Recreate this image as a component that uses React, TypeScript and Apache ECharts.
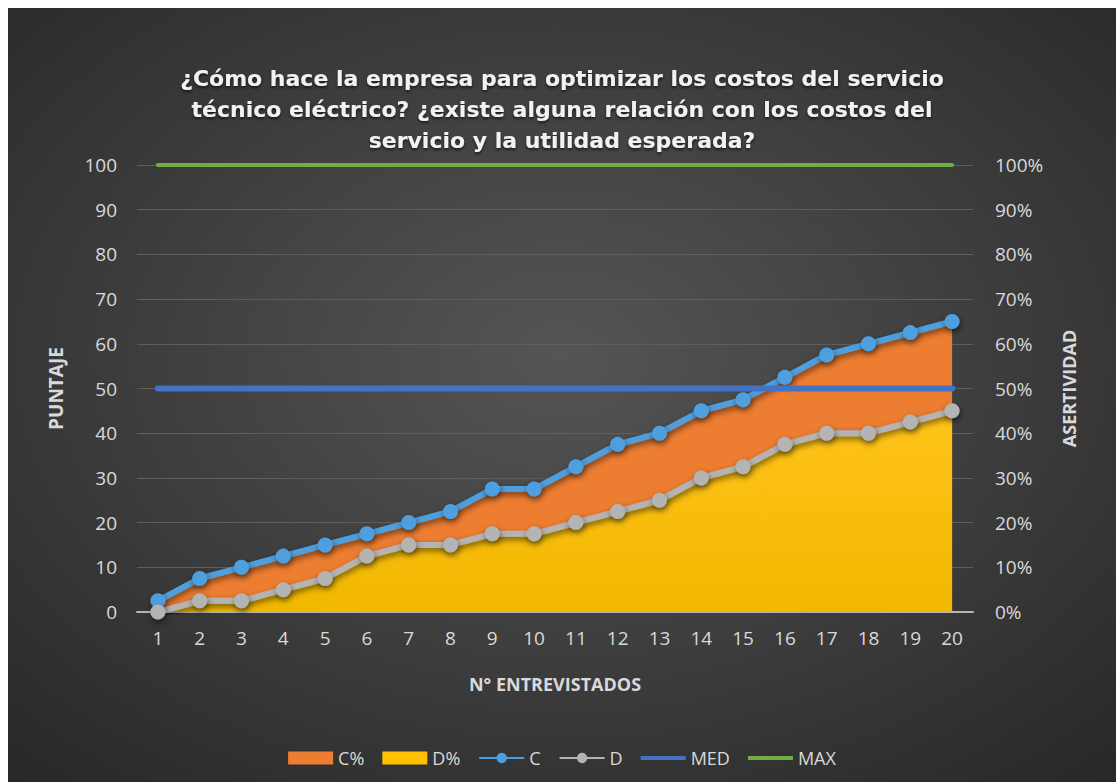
import React, { useEffect, useRef } from "react";
import * as echarts from "echarts";

const categories = ["1", "2", "3", "4", "5", "6", "7", "8", "9", "10", "11", "12", "13", "14", "15", "16", "17", "18", "19", "20"];
const cValues = [2.5, 7.5, 10, 12.5, 15, 17.5, 20, 22.5, 27.5, 27.5, 32.5, 37.5, 40, 45, 47.5, 52.5, 57.5, 60, 62.5, 65];
const dValues = [0, 2.5, 2.5, 5, 7.5, 12.5, 15, 15, 17.5, 17.5, 20, 22.5, 25, 30, 32.5, 37.5, 40, 40, 42.5, 45];
const cPctValues = [0.025, 0.075, 0.1, 0.125, 0.15, 0.175, 0.2, 0.225, 0.275, 0.275, 0.325, 0.375, 0.4, 0.45, 0.475, 0.525, 0.575, 0.6, 0.625, 0.65];
const dPctValues = [0, 0.025, 0.025, 0.05, 0.075, 0.125, 0.15, 0.15, 0.175, 0.175, 0.2, 0.225, 0.25, 0.3, 0.325, 0.375, 0.4, 0.4, 0.425, 0.45];
const medValues = [50, 50, 50, 50, 50, 50, 50, 50, 50, 50, 50, 50, 50, 50, 50, 50, 50, 50, 50, 50];
const maxValues = [100, 100, 100, 100, 100, 100, 100, 100, 100, 100, 100, 100, 100, 100, 100, 100, 100, 100, 100, 100];

const titleText =
  "¿Cómo hace la empresa para optimizar los costos del servicio\ntécnico eléctrico? ¿existe alguna relación con los costos del\nservicio y la utilidad esperada?";

const FONT = "'Open Sans', 'DejaVu Sans', sans-serif";
const LABEL = "#d9d9d9";
const LINE_ICON =
  "path://M0,0 L0.01,0 L0,0.01 Z M0,4.5 L45,4.5 L45,8.5 L0,8.5 Z M45,13 L44.99,13 L45,12.99 Z";

export default function App() {
  const ref = useRef<HTMLDivElement>(null);
  useEffect(() => {
    if (!ref.current) return;
    const chart = echarts.init(ref.current, undefined, { renderer: "svg" });
    const shadow = {
      shadowColor: "rgba(0,0,0,0.55)",
      shadowBlur: 6,
      shadowOffsetX: 1,
      shadowOffsetY: 3,
    };
    chart.setOption({
      animation: false,
      backgroundColor: {
        type: "radial",
        x: 0.5,
        y: 0.45,
        r: 0.75,
        colorStops: [
          { offset: 0, color: "#555555" },
          { offset: 1, color: "#272727" },
        ],
      },
      title: {
        text: titleText,
        left: "center",
        top: 50,
        textStyle: {
          fontFamily: "'DejaVu Sans', sans-serif",
          fontWeight: "bold",
          fontSize: 22,
          lineHeight: 31,
          color: "#f2f2f2",
          textShadowColor: "rgba(0,0,0,0.6)",
          textShadowBlur: 3,
          textShadowOffsetY: 2,
        },
      },
      legend: {
        bottom: 10,
        left: "center",
        itemGap: 18,
        itemWidth: 45,
        itemHeight: 13,
        textStyle: { color: LABEL, fontFamily: FONT, fontSize: 18 },
        data: [
          { name: "C%", icon: "rect" },
          { name: "D%", icon: "rect" },
          { name: "C" },
          { name: "D" },
          { name: "MED", icon: LINE_ICON },
          { name: "MAX", icon: LINE_ICON },
        ],
      },
      grid: { left: 129, right: 143, top: 157, bottom: 170 },
      xAxis: {
        type: "category",
        data: categories,
        boundaryGap: true,
        name: "N° ENTREVISTADOS",
        nameLocation: "middle",
        nameGap: 63,
        nameTextStyle: { color: LABEL, fontFamily: FONT, fontWeight: "bold", fontSize: 18 },
        axisLine: { lineStyle: { color: "#b5b5b5", width: 2 } },
        axisTick: { show: false },
        axisLabel: { color: LABEL, fontFamily: FONT, fontSize: 19, margin: 16 },
      },
      yAxis: [
        {
          type: "value",
          min: 0,
          max: 100,
          interval: 10,
          name: "PUNTAJE",
          nameLocation: "middle",
          nameGap: 72,
          nameRotate: 90,
          nameTextStyle: { color: LABEL, fontFamily: FONT, fontWeight: "bold", fontSize: 19 },
          axisLine: { show: false },
          axisTick: { show: false },
          axisLabel: { color: LABEL, fontFamily: FONT, fontSize: 19, margin: 20 },
          splitLine: { lineStyle: { color: "#5e5e5e", width: 1 } },
        },
        {
          type: "value",
          min: 0,
          max: 1,
          interval: 0.1,
          name: "ASERTIVIDAD",
          nameLocation: "middle",
          nameGap: 87,
          nameRotate: 90,
          nameTextStyle: { color: LABEL, fontFamily: FONT, fontWeight: "bold", fontSize: 18 },
          axisLine: { show: false },
          axisTick: { show: false },
          splitLine: { show: false },
          axisLabel: {
            color: LABEL,
            fontFamily: FONT,
            fontSize: 19,
            margin: 22,
            formatter: (v: number) => Math.round(v * 100) + "%",
          },
        },
      ],
      series: [
        {
          name: "C%",
          type: "line",
          yAxisIndex: 1,
          data: cPctValues,
          symbol: "none",
          lineStyle: { width: 0 },
          itemStyle: { color: "#ED7D31" },
          areaStyle: { color: "#ED7D31", opacity: 1 },
          z: 1,
        },
        {
          name: "D%",
          type: "line",
          yAxisIndex: 1,
          data: dPctValues,
          symbol: "none",
          lineStyle: { width: 0 },
          itemStyle: { color: "#FFC000" },
          areaStyle: {
            opacity: 1,
            color: {
              type: "linear",
              x: 0,
              y: 0,
              x2: 0,
              y2: 1,
              colorStops: [
                { offset: 0, color: "#FFC31A" },
                { offset: 1, color: "#F2B800" },
              ],
            },
          },
          z: 2,
        },
        {
          name: "C",
          type: "line",
          data: cValues,
          symbol: "circle",
          symbolSize: 15,
          lineStyle: { color: "#4E9FE0", width: 6, ...shadow },
          itemStyle: { color: "#4E9FE0", ...shadow },
          z: 3,
        },
        {
          name: "D",
          type: "line",
          data: dValues,
          symbol: "circle",
          symbolSize: 15,
          lineStyle: { color: "#B4B4B4", width: 6, ...shadow },
          itemStyle: { color: "#B4B4B4", ...shadow },
          z: 3,
        },
        {
          name: "MED",
          type: "line",
          data: medValues,
          symbol: "none",
          lineStyle: { color: "#4472C4", width: 6, cap: "round" },
          itemStyle: { color: "#4472C4" },
          z: 4,
        },
        {
          name: "MAX",
          type: "line",
          data: maxValues,
          symbol: "none",
          lineStyle: { color: "#70AD47", width: 4, cap: "round" },
          itemStyle: { color: "#70AD47" },
          z: 4,
        },
      ],
    });
    return () => chart.dispose();
  }, []);
  return (
    <div
      ref={ref}
      style={{ position: "absolute", left: 8, top: 8, width: 1108, height: 774 }}
    />
  );
}
